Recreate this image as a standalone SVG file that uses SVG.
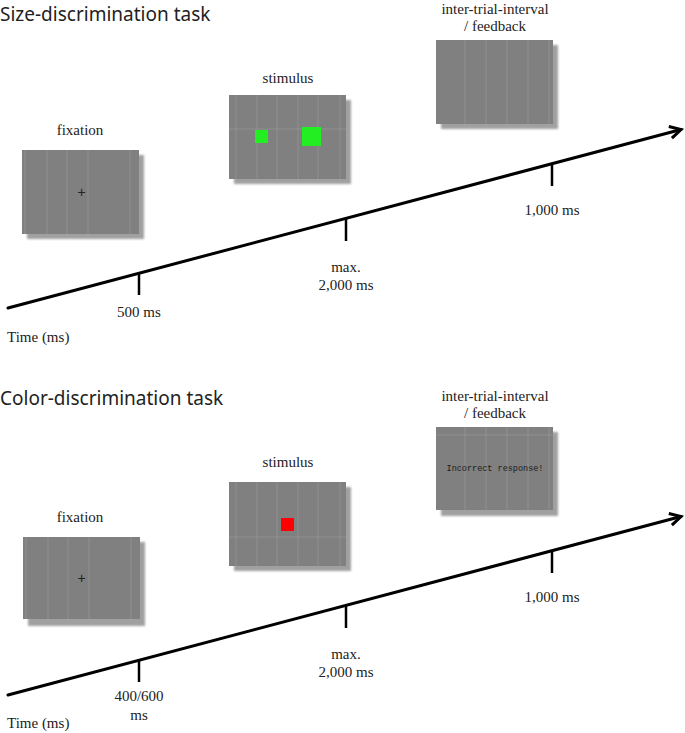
<svg xmlns="http://www.w3.org/2000/svg" width="685" height="733" viewBox="0 0 685 733">
<style>
.title{font-family:"Noto Sans","Open Sans","DejaVu Sans",sans-serif;font-size:19px;fill:#222}
.lbl{font-family:"Liberation Serif","Times New Roman",serif;font-size:15px;fill:#222}
.scr{fill:#808080}
.sh{fill:#a0a0a0;filter:url(#blur)}
.grid{stroke:#959595;stroke-width:0.8}
.axis{stroke:#000;stroke-width:3;fill:none;stroke-linecap:round}
.tick{stroke:#000;stroke-width:2.5}
.cross{font-family:"Liberation Sans",Arial,sans-serif;font-size:14px;fill:#222}
.mono{font-family:"Liberation Mono","Courier New",monospace;font-size:8.5px;fill:#1a1a1a}
</style>
<defs>
<filter id="blur" x="-10%" y="-10%" width="120%" height="120%"><feGaussianBlur stdDeviation="1"/></filter>
<marker id="arr" markerWidth="16" markerHeight="16" refX="12" refY="8" orient="auto" markerUnits="userSpaceOnUse">
<polyline points="1,2 12,8 1,14" fill="none" stroke="#000" stroke-width="3" stroke-linejoin="miter"/>
</marker>
</defs>

<text class="title" x="0" y="21">Size-discrimination task</text>
<text class="title" x="0" y="405">Color-discrimination task</text>

<g id="connectors">
<line class="axis" x1="8" y1="308" x2="681" y2="129.5" marker-end="url(#arr)"/>
<line class="tick" x1="139" y1="273" x2="139" y2="295"/>
<line class="tick" x1="346" y1="218" x2="346" y2="241"/>
<line class="tick" x1="552" y1="164" x2="552" y2="186"/>
<line class="axis" x1="8" y1="695" x2="681" y2="516.5" marker-end="url(#arr)"/>
<line class="tick" x1="139" y1="660" x2="139" y2="682"/>
<line class="tick" x1="346" y1="605" x2="346" y2="628"/>
<line class="tick" x1="552" y1="551" x2="552" y2="573"/>
</g>

<!-- Size task -->
<g id="size-fixation">
<text class="lbl" x="80" y="135" text-anchor="middle">fixation</text>
<rect class="sh" x="27" y="155" width="117" height="84"/>
<rect class="scr" x="22" y="150" width="117" height="84"/>
<g class="grid"><line x1="25" y1="150" x2="25" y2="234"/><line x1="47" y1="150" x2="47" y2="234"/><line x1="67" y1="150" x2="67" y2="234"/><line x1="88" y1="150" x2="88" y2="234"/><line x1="130" y1="150" x2="130" y2="234"/></g>
<text class="cross" x="81.5" y="197" text-anchor="middle">+</text>
</g>

<g id="size-stimulus">
<text class="lbl" x="288" y="83" text-anchor="middle">stimulus</text>
<rect class="sh" x="234" y="100" width="117" height="84"/>
<rect class="scr" x="229" y="95" width="117" height="84"/>
<g class="grid"><line x1="236" y1="95" x2="236" y2="179"/><line x1="257" y1="95" x2="257" y2="179"/><line x1="277" y1="95" x2="277" y2="179"/><line x1="298" y1="95" x2="298" y2="179"/><line x1="318" y1="95" x2="318" y2="179"/><line x1="340" y1="95" x2="340" y2="179"/><line x1="229" y1="129" x2="346" y2="129"/></g>
<rect x="255" y="130" width="13" height="13" fill="#22ee22"/>
<rect x="302" y="127" width="19" height="19" fill="#22ee22"/>
</g>

<g id="size-feedback">
<text class="lbl" x="495" y="14" text-anchor="middle">inter-trial-interval</text>
<text class="lbl" x="495" y="31" text-anchor="middle">/ feedback</text>
<rect class="sh" x="441" y="45" width="117" height="84"/>
<rect class="scr" x="436" y="40" width="117" height="84"/>
<g class="grid"><line x1="465" y1="40" x2="465" y2="124"/><line x1="486" y1="40" x2="486" y2="124"/><line x1="507" y1="40" x2="507" y2="124"/><line x1="528" y1="40" x2="528" y2="124"/><line x1="549" y1="40" x2="549" y2="124"/></g>
</g>

<g id="size-labels">
<text class="lbl" x="7" y="342">Time (ms)</text>
<text class="lbl" x="139" y="317" text-anchor="middle">500 ms</text>
<text class="lbl" x="346" y="272" text-anchor="middle">max.</text>
<text class="lbl" x="346" y="290" text-anchor="middle">2,000 ms</text>
<text class="lbl" x="552" y="215" text-anchor="middle">1,000 ms</text>
</g>

<!-- Color task -->
<g id="color-fixation">
<text class="lbl" x="80" y="522" text-anchor="middle">fixation</text>
<rect class="sh" x="28" y="542" width="117" height="84"/>
<rect class="scr" x="23" y="537" width="117" height="82"/>
<g class="grid"><line x1="26" y1="537" x2="26" y2="619"/><line x1="48" y1="537" x2="48" y2="619"/><line x1="68" y1="537" x2="68" y2="619"/><line x1="89" y1="537" x2="89" y2="619"/><line x1="131" y1="537" x2="131" y2="619"/></g>
<text class="cross" x="81.5" y="583" text-anchor="middle">+</text>
</g>

<g id="color-stimulus">
<text class="lbl" x="288" y="467" text-anchor="middle">stimulus</text>
<rect class="sh" x="234" y="487" width="117" height="84"/>
<rect class="scr" x="229" y="482" width="117" height="84"/>
<g class="grid"><line x1="236" y1="482" x2="236" y2="566"/><line x1="257" y1="482" x2="257" y2="566"/><line x1="277" y1="482" x2="277" y2="566"/><line x1="298" y1="482" x2="298" y2="566"/><line x1="318" y1="482" x2="318" y2="566"/><line x1="340" y1="482" x2="340" y2="566"/><line x1="229" y1="537" x2="346" y2="537"/></g>
<rect x="281" y="518" width="13" height="13" fill="#ff0000"/>
</g>

<g id="color-feedback">
<text class="lbl" x="495" y="401" text-anchor="middle">inter-trial-interval</text>
<text class="lbl" x="495" y="418" text-anchor="middle">/ feedback</text>
<rect class="sh" x="441" y="432" width="117" height="84"/>
<rect class="scr" x="436" y="427" width="117" height="83"/>
<g class="grid"><line x1="465" y1="427" x2="465" y2="510"/><line x1="486" y1="427" x2="486" y2="510"/><line x1="507" y1="427" x2="507" y2="510"/><line x1="528" y1="427" x2="528" y2="510"/><line x1="549" y1="427" x2="549" y2="510"/><line x1="436" y1="435" x2="553" y2="435"/></g>
<text class="mono" x="495" y="471" text-anchor="middle">Incorrect response!</text>
</g>

<g id="color-labels">
<text class="lbl" x="7" y="728">Time (ms)</text>
<text class="lbl" x="139" y="701" text-anchor="middle">400/600</text>
<text class="lbl" x="139" y="720" text-anchor="middle">ms</text>
<text class="lbl" x="346" y="659" text-anchor="middle">max.</text>
<text class="lbl" x="346" y="677" text-anchor="middle">2,000 ms</text>
<text class="lbl" x="552" y="602" text-anchor="middle">1,000 ms</text>
</g>
</svg>
